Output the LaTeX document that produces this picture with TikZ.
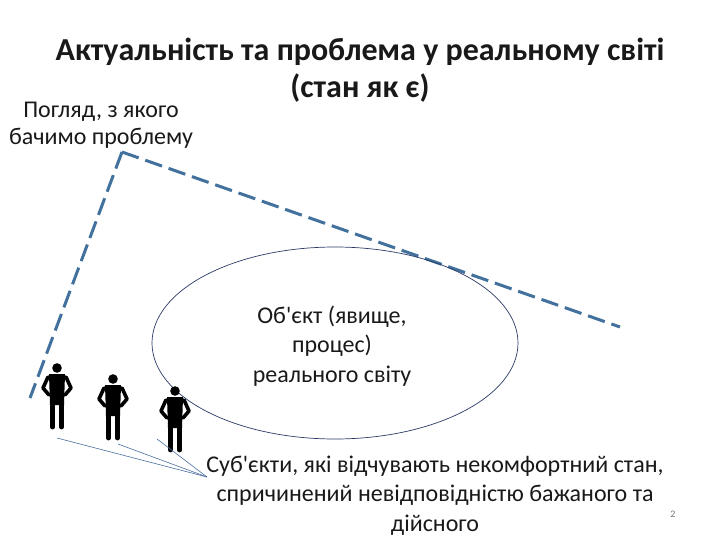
\documentclass[tikz,border=0pt]{standalone}
\usepackage{fontspec}
\setmainfont{Carlito}[Ligatures=TeXOff]
\tikzset{
	person/.pic={
		\fill (0, 0) circle (4.8);
		\fill (-8, 6) -- (8, 6) -- (7, 37) -- (-7, 37) -- cycle;
		\draw[line width=3.6pt, line cap=round, line join=round] (-9, 9) -- (-14, 20) -- (-8, 27);
		\draw[line width=3.6pt, line cap=round, line join=round] (9, 9) -- (14, 20) -- (8, 27);
		\draw[line width=4.8pt, line cap=round] (-4.6, 34) -- (-4.6, 59);
		\draw[line width=4.8pt, line cap=round] (4.6, 34) -- (4.6, 59);
	},
	label/.style={align=center, inner sep=0pt, text=black!90},
	sight/.style={line width=3pt, color=sightblue, dash pattern=on 17.7pt off 7pt},
	pointer/.style={line width=0.6pt, color=pointerblue}
}
\definecolor{sightblue}{HTML}{41719C}
\definecolor{pointerblue}{HTML}{4A6F9E}
\definecolor{rimblue}{HTML}{2B3A67}
\begin{document}
\begin{tikzpicture}[x=1pt, y=-1pt]
	\useasboundingbox (0, 0) rectangle (720, 540);
	
	\node[label, font=\bfseries\fontsize{32}{37}\selectfont] (title) at (360, 70.5) {Актуальність та проблема у реальному світі\\(стан як є)};
	\node[label, font=\fontsize{24}{27}\selectfont] (view) at (101, 125) {Погляд, з якого\\бачимо проблему};
	
	\draw[sight] (122, 152) -- (30, 398);
	\draw[sight] (122, 152) -- (620, 327);
	
	\draw[line width=0.7pt, color=rimblue] (335, 343) ellipse (183 and 96);
	\node[label, font=\fontsize{24}{29.5}\selectfont] (object) at (332, 346) {Об'єкт (явище,\\процес)\\реального світу};
	
	\pic at (57, 368) {person};
	\pic at (113, 379) {person};
	\pic at (175, 391) {person};
	
	\node[label, font=\fontsize{24}{29.5}\selectfont] (subjects) at (435, 495.5) {Суб'єкти, які відчувають некомфортний стан,\\спричинений невідповідністю бажаного та\\дійсного};
	\node[label, font=\fontsize{10}{12}\selectfont, text=black!55] (page) at (673, 514) {2};
	
	\coordinate (tip) at (207, 477);
	\coordinate (first) at (57, 438);
	\coordinate (second) at (118, 444);
	\coordinate (third) at (157, 439);
	\draw[pointer] (first) -- (tip);
	\draw[pointer] (second) -- (tip);
	\draw[pointer] (third) -- (tip);
\end{tikzpicture}
\end{document}
